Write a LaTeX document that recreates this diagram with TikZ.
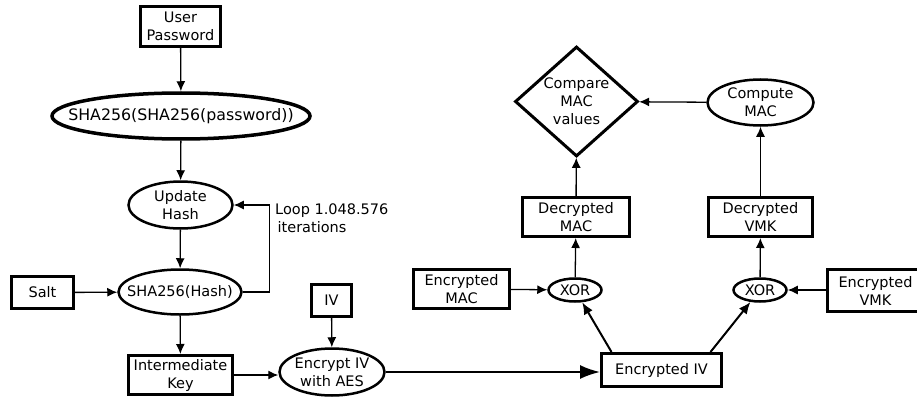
\documentclass[tikz,border=0pt]{standalone}
\usepackage{fontspec}
\setmainfont{DejaVu Sans}
\usetikzlibrary{shapes.geometric, arrows.meta, calc}

\begin{document}
\begin{tikzpicture}[x=1pt, y=-1pt, font=\fontsize{14.5}{18}\selectfont,
    box/.style={draw, line width=3pt, inner sep=0pt, align=center},
    oval/.style={draw, ellipse, line width=2.5pt, inner xsep=-30pt, inner ysep=-12pt, align=center},
    flow/.style={->, line width=1.3pt},
    >={Latex[length=10pt, width=9pt]}]
  \useasboundingbox (0,0) rectangle (917,401);

  % key derivation
  \node[box, minimum width=80pt, minimum height=40pt] (upw) at (180.5, 26.5) {User\\Password};
  \node[oval, line width=3.5pt, minimum width=258pt, minimum height=46pt, font=\fontsize{15.8}{19}\selectfont] (shp) at (181, 116) {SHA256(SHA256(password))};
  \node[oval, minimum width=104pt, minimum height=47pt] (upd) at (180.5, 205) {Update\\Hash};
  \node[oval, minimum width=123pt, minimum height=45pt] (shh) at (180, 292) {SHA256(Hash)};
  \node[box, minimum width=62pt, minimum height=32pt] (slt) at ( 42.5, 292.5) {Salt};
  \node[box, minimum width=104pt, minimum height=39pt] (ikey) at (180.5, 375) {Intermediate\\Key};
  \node[box, minimum width=40pt, minimum height=32pt] (iv) at (331.5, 300.5) {IV};
  \node[oval, minimum width=105pt, minimum height=47pt] (aes) at (332, 372) {Encrypt IV\\with AES};
  \node[align=left, anchor=north west, inner sep=0pt] (loop) at (275, 204) {Loop 1.048.576\\ \,iterations};

  % decryption
  \node[box, minimum width=120pt, minimum height=33pt] (eiv) at (661.5, 370) {Encrypted IV};
  \node[box, minimum width=96pt, minimum height=39pt] (emac) at (461.5, 289) {Encrypted\\MAC};
  \node[box, minimum width=96pt, minimum height=42pt] (evmk) at (875.5, 290.5) {Encrypted\\VMK};
  \node[oval, minimum width=53pt, minimum height=23pt] (xm) at (575, 290) {XOR};
  \node[oval, minimum width=53pt, minimum height=23pt] (xv) at (760, 290) {XOR};
  \node[box, minimum width=107pt, minimum height=39pt] (dmac) at (576, 217) {Decrypted\\MAC};
  \node[box, minimum width=104pt, minimum height=39pt] (dvmk) at (760.5, 217) {Decrypted\\VMK};
  \node[draw, diamond, line width=3pt, inner xsep=-30pt, inner ysep=-25pt, align=center, minimum width=123pt, minimum height=110pt] (cmp) at (576.5, 101.5) {Compare\\MAC\\values};
  \node[oval, minimum width=106pt, minimum height=46pt] (cmac) at (760.5, 102.5) {Compute\\MAC};

  \draw[flow] (upw) -- (shp);
  \draw[flow] (shp) -- (upd);
  \draw[flow] (upd) -- (shh);
  \draw[flow] (shh.east) -- ++(27, 0) |- (upd.east);
  \draw[flow] (slt) -- (shh);
  \draw[flow] (shh) -- (ikey);
  \draw[flow] (ikey.east) -- (ikey.east -| aes.west);
  \draw[flow] (iv) -- (aes);
  \draw[-{Latex[length=20pt, width=14pt]}, line width=2pt] (aes.east) -- (aes.east -| eiv.west);
  \draw[->, line width=2pt, >={Latex[length=12pt, width=10pt]}] ([xshift=-50pt]eiv.north) -- (xm);
  \draw[->, line width=2pt, >={Latex[length=12pt, width=10pt]}] ([xshift=49pt]eiv.north) -- (xv);
  \draw[flow] (emac) -- (xm);
  \draw[flow] (evmk.west |- xv) -- (xv);
  \draw[flow] (xm) -- (dmac);
  \draw[flow] (xv) -- (dvmk);
  \draw[flow] (dmac) -- (cmp);
  \draw[flow] (dvmk) -- (cmac);
  \draw[flow] (cmac) -- (cmp);
\end{tikzpicture}
\end{document}
